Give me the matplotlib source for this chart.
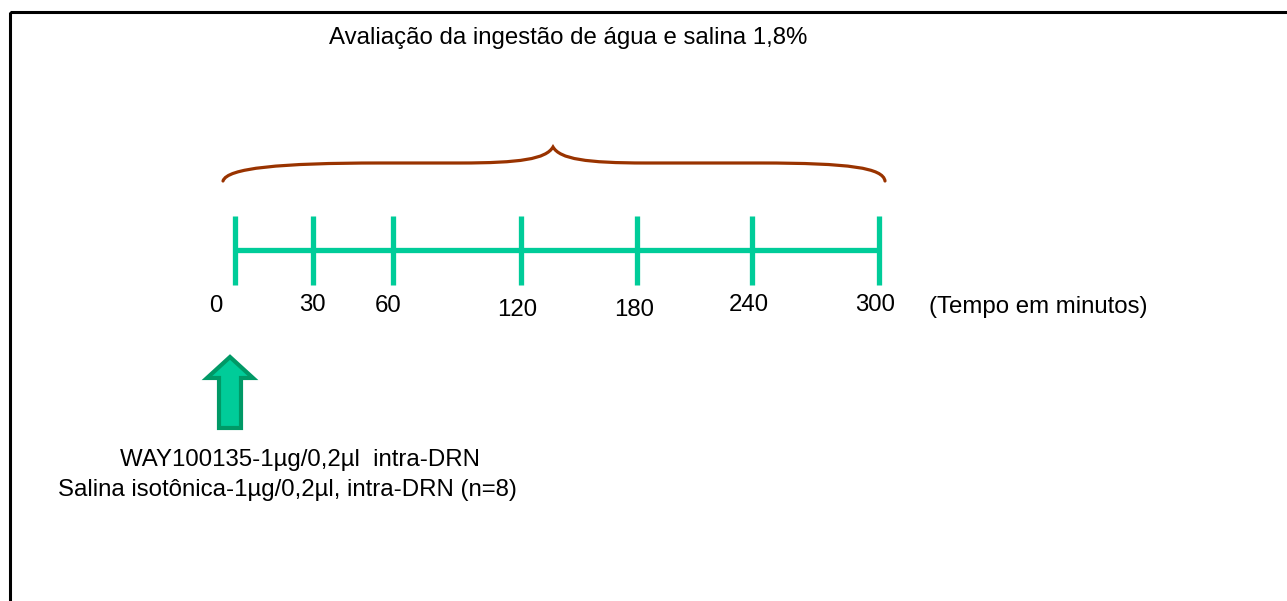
import matplotlib
matplotlib.use("Agg")
import matplotlib.pyplot as plt
from matplotlib.path import Path
from matplotlib.patches import PathPatch, Polygon, Rectangle

# ---- content ----
title = "Avaliação da ingestão de água e salina 1,8%"
time_labels = ["0", "30", "60", "120", "180", "240", "300"]
axis_caption = "(Tempo em minutos)"
treatment_lines = ["WAY100135-1µg/0,2µl  intra-DRN",
                   "Salina isotônica-1µg/0,2µl, intra-DRN (n=8)"]

# ---- layout (pixel coordinates of the canvas) ----
W, H = 1287, 601
tick_x = [235, 313, 393, 521, 637, 752, 879]
label_x = [216, 312, 388, 517, 634, 749, 875]
label_y = [306, 305, 306, 310, 310, 305, 305]
line_y = 250
tick_top, tick_bot = 216, 285

GREEN = "#00CC99"
DKGREEN = "#009966"
BROWN = "#993300"
FONT = "Liberation Sans"
FS = 17.3

fig = plt.figure(figsize=(W / 100, H / 100), dpi=100)
ax = fig.add_axes([0, 0, 1, 1])
ax.set_xlim(0, W)
ax.set_ylim(H, 0)
ax.axis("off")

# frame (clipped at right and bottom)
ax.add_patch(Rectangle((10, 12), 1400, 700, fill=False, ec="black", lw=2.2))

# timeline
ax.plot([tick_x[0], tick_x[-1]], [line_y, line_y], color=GREEN, lw=3.8,
        solid_capstyle="butt")
for x in tick_x:
    ax.plot([x, x], [tick_top, tick_bot], color=GREEN, lw=3.8,
            solid_capstyle="butt")

# labels
for lab, x, y in zip(time_labels, label_x, label_y):
    ax.text(x, y, lab, ha="center", va="center", fontsize=FS, family=FONT)
ax.text(1038, 307, axis_caption, ha="center", va="center", fontsize=FS,
        family=FONT)

# title
ax.text(568, 38, title, ha="center", va="center", fontsize=FS, family=FONT)

# curly brace
verts = [(223, 181), (227, 168), (280, 163), (380, 163),
         (460, 163),
         (520, 163), (546, 159), (553, 147),
         (560, 159), (586, 163), (646, 163),
         (760, 163),
         (850, 163), (883, 168), (885, 181)]
codes = [Path.MOVETO, Path.CURVE4, Path.CURVE4, Path.CURVE4,
         Path.LINETO,
         Path.CURVE4, Path.CURVE4, Path.CURVE4,
         Path.CURVE4, Path.CURVE4, Path.CURVE4,
         Path.LINETO,
         Path.CURVE4, Path.CURVE4, Path.CURVE4]
ax.add_patch(PathPatch(Path(verts, codes), fill=False, ec=BROWN, lw=2.3,
                       capstyle="round"))

# arrow
arrow = [(230, 357), (253, 378), (241, 378), (241, 428), (219, 428),
         (219, 378), (207, 378)]
ax.add_patch(Polygon(arrow, closed=True, fc=GREEN, ec=DKGREEN, lw=3.0,
                     joinstyle="miter"))

# treatment text
ax.text(300, 460, treatment_lines[0], ha="center", va="center", fontsize=FS,
        family=FONT)
ax.text(287, 490, treatment_lines[1], ha="center", va="center", fontsize=FS,
        family=FONT)

fig.savefig("out.png", dpi=100, facecolor="white")
